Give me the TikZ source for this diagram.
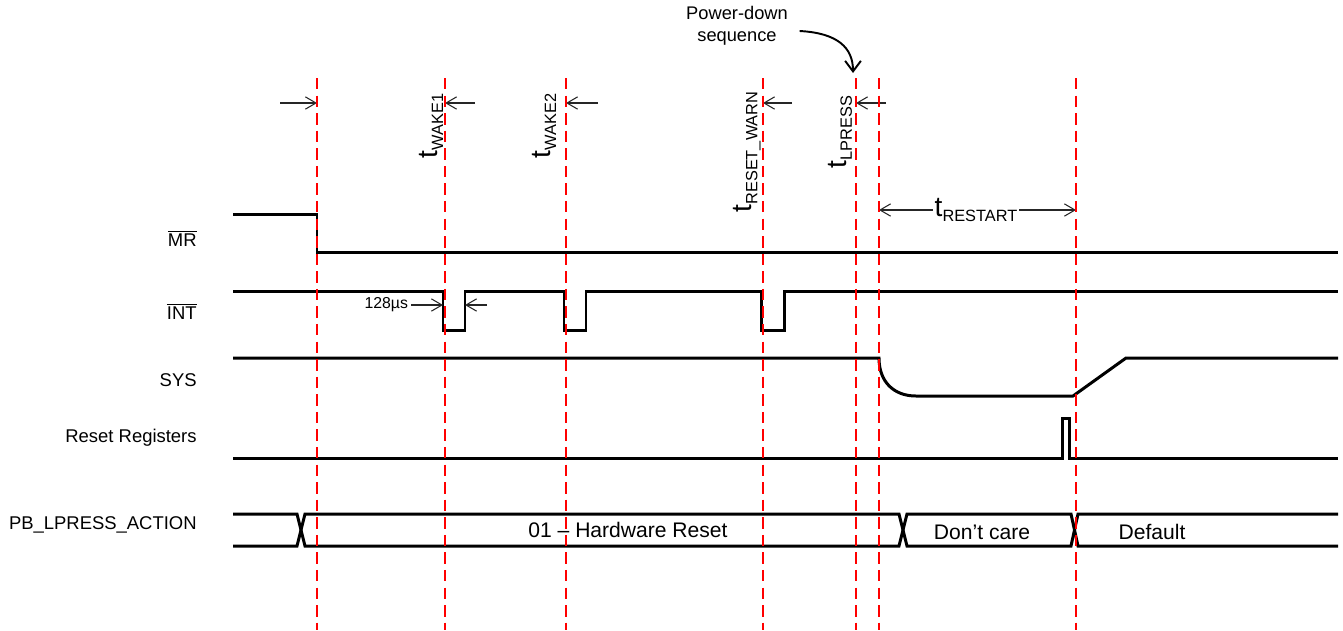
\documentclass[tikz,border=0pt]{standalone}
\usepackage{fontspec}
\setmainfont{Liberation Sans}
\usetikzlibrary{arrows.meta}
\newcommand{\tsym}[1]{t\raisebox{-0.4ex}{\fontsize{9.3}{10}\selectfont #1}}

\begin{document}
\begin{tikzpicture}[
  x=0.02cm, y=-0.02cm,
  siglabel/.style={anchor=east, inner sep=0pt, font=\fontsize{10.5}{12}\selectfont},
  buslabel/.style={inner sep=0pt, font=\fontsize{12}{14}\selectfont},
  tlabel/.style={inner sep=1pt, font=\fontsize{16}{18}\selectfont},
  wave/.style={draw=black, line width=1.7pt},
  guide/.style={draw=red, line width=1.1pt, dash pattern=on 6.5pt off 3.5pt},
  dim/.style={draw=black!85, line width=0.6pt,
    -{Straight Barb[length=6pt,width=7pt]}},
  note/.style={draw=black, line width=1.1pt,
    -{Straight Barb[length=6pt,width=9pt]}}
]
  \useasboundingbox (0,0) rectangle (1343,630);

  % Guide positions: top, bottom and the height of the timing marks.
  \foreach \n/\gx in {g1/317, g2/445, g3/566, g4/763, g5/856, g6/879, g7/1076} {
    \coordinate (\n-top) at (\gx,78);
    \coordinate (\n-bot) at (\gx,630);
    \coordinate (\n-m) at (\gx,103);
  }

  % Signal names.
  \node[siglabel] (lmr) at (197,238) {$\overline{\mbox{MR}}$};
  \node[siglabel] (lint) at (197,311) {$\overline{\mbox{INT}}$};
  \node[siglabel] (lsys) at (197,380) {SYS};
  \node[siglabel] (lreset) at (197,438) {Reset Registers};
  \node[siglabel] (lbus) at (197,525) {PB\_LPRESS\_ACTION};

  % Waveforms.
  \draw[wave] (233,214) -- (317,214) -- (317,252) -- (1338,252);
  \draw[wave] (233,291) -- (443,291) -- (443,330) -- (465,330) -- (465,291)
    -- (564,291) -- (564,330) -- (586,330) -- (586,291)
    -- (761,291) -- (761,330) -- (784,330) -- (784,291) -- (1338,291);
  \draw[wave] (233,358) -- (879,358) .. controls (879,382) and (894,396) .. (916,396)
    -- (1073,396) -- (1126,358) -- (1338,358);
  \draw[wave] (233,458) -- (1062,458) -- (1062,418) -- (1069,418) -- (1069,458)
    -- (1338,458);

  % Bus with its crossings.
  \draw[wave] (233,514) -- (297,514) -- (305,546) -- (899,546) -- (907,514)
    -- (1071,514) -- (1078,546) -- (1338,546);
  \draw[wave] (233,546) -- (297,546) -- (305,514) -- (899,514) -- (907,546)
    -- (1071,546) -- (1078,514) -- (1338,514);
  \node[buslabel] (hwreset) at (628,530) {01 \textendash{} Hardware Reset};
  \node[buslabel] (dcare) at (982,532) {Don’t care};
  \node[buslabel] (dflt) at (1152,532) {Default};

  % Timing labels.
  \node[tlabel, rotate=90] (twake1) at (431,126) {\tsym{WAKE1}};
  \node[tlabel, rotate=90] (twake2) at (544,126) {\tsym{WAKE2}};
  \node[tlabel, rotate=90] (twarn) at (747,152) {\tsym{RESET\_WARN}};
  \node[tlabel, rotate=90] (tlpress) at (840,132) {\tsym{LPRESS}};
  \node[tlabel] (trestart) at (976,210) {\tsym{RESTART}};

  \coordinate (m0) at (280,103);
  \coordinate (m2) at (475,103);
  \coordinate (m3) at (598,103);
  \coordinate (m4) at (792,103);
  \coordinate (m5) at (886,103);
  \draw[dim] (m0) -- (g1-m);
  \draw[dim] (m2) -- (g2-m);
  \draw[dim] (m3) -- (g3-m);
  \draw[dim] (m4) -- (g4-m);
  \draw[dim] (m5) -- (g5-m);
  \draw[dim] (trestart.west) -- (trestart.west -| g6-m);
  \draw[dim] (trestart.east) -- (trestart.east -| g7-m);

  % Pulse width of INT.
  \node[anchor=east, inner sep=1.5pt, font=\fontsize{9}{10}\selectfont] (tpulse)
    at (411,305) {128µs};
  \coordinate (p1a) at (443,305);
  \coordinate (p1b) at (465,305);
  \coordinate (p1c) at (487,305);
  \draw[dim] (tpulse.east) -- (p1a);
  \draw[dim] (p1c) -- (p1b);

  % Power-down note.
  \node[align=center, inner sep=2pt, font=\fontsize{10.4}{12.5}\selectfont] (pdown)
    at (737,26) {Power-down\\sequence};
  \coordinate (pdtip) at (853,73);
  \draw[note] ([shift={(8,5)}]pdown.east) .. controls (838,33) and (853,48) .. (pdtip);

  % Red guides on top.
  \foreach \n in {g1,g2,g3,g4,g5,g6,g7}
    \draw[guide] (\n-top) -- (\n-bot);
\end{tikzpicture}
\end{document}
